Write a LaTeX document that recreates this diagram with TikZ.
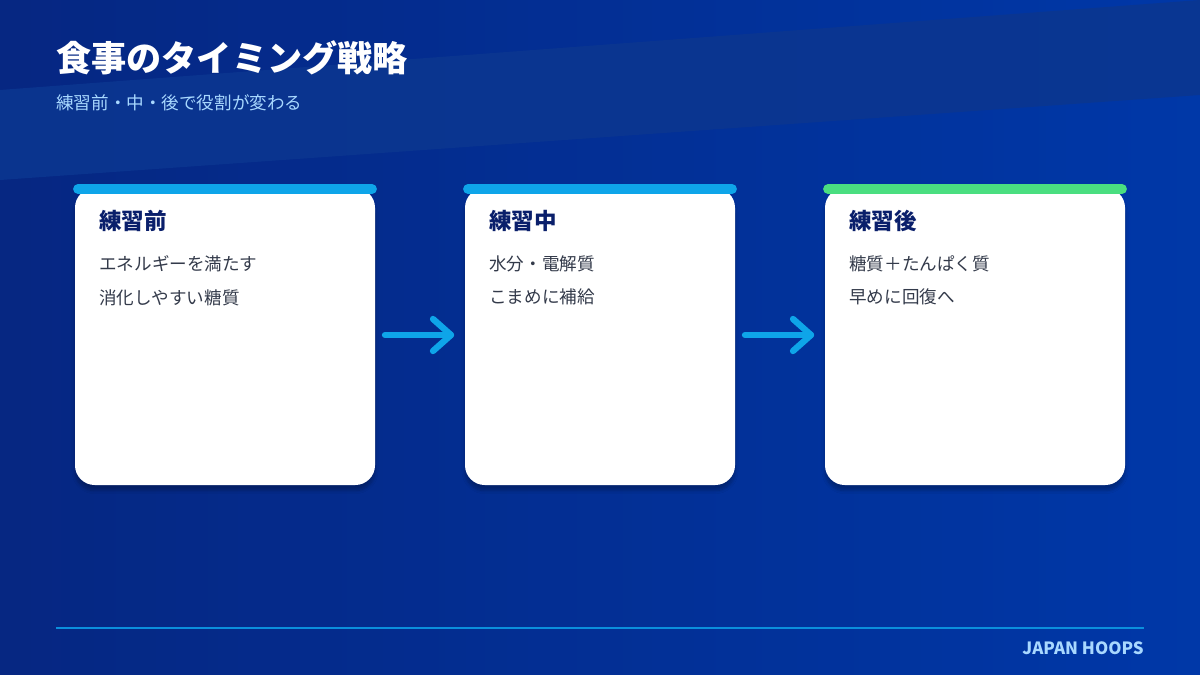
\documentclass[tikz,border=0pt]{standalone}
\usepackage{fontspec}
\setmainfont{Noto Sans CJK JP}
\setsansfont{Noto Sans CJK JP}
\usetikzlibrary{shadows.blur}
\definecolor{bgA}{HTML}{0A1E6E}
\definecolor{bgB}{HTML}{0038A8}
\definecolor{band}{HTML}{0B3690}
\definecolor{accB}{HTML}{0EA5E9}
\definecolor{accG}{HTML}{4ADE80}
\definecolor{head}{HTML}{0A1F6B}
\definecolor{body}{HTML}{333A4A}
\definecolor{sub}{HTML}{A8D8FF}
\begin{document}
\begin{tikzpicture}[x=0.025cm,y=-0.025cm,
  card/.style={fill=white,rounded corners=20pt*0.7,blur shadow={shadow blur steps=8,shadow xshift=0pt,shadow yshift=-4pt,shadow opacity=25}},
  bar/.style={line width=7pt,line cap=round},
  arr/.style={draw=accB,line width=4.5pt,line cap=round,line join=round},
  htext/.style={anchor=north west,font=\bfseries\fontsize{16}{18}\selectfont,text=head,inner sep=0},
  btext/.style={anchor=north west,font=\fontsize{12.5}{24}\selectfont,text=body,inner sep=0,align=left}]
\useasboundingbox (0,0) rectangle (1200,675);
\shade[left color=bgA,right color=bgB] (0,0) rectangle (1200,675);
\fill[bgB,opacity=0.35] (0,0) rectangle (1200,675);
\fill[band,opacity=0.9] (0,90) -- (1200,0) -- (1200,95) -- (0,180) -- cycle;
\node[anchor=west,text=white,font=\bfseries\fontsize{25}{28}\selectfont,inner sep=0] (title) at (56,58) {食事のタイミング戦略};
\node[anchor=west,text=sub,font=\fontsize{12.5}{15}\selectfont,inner sep=0] (subt) at (56,103) {練習前・中・後で役割が変わる};
% cards
\fill[card] (75,188) rectangle (375,485);
\draw[bar,accB] (78,189) -- (372,189);
\fill[card] (465,188) rectangle (735,485);
\draw[bar,accB] (468,189) -- (732,189);
\fill[card] (825,188) rectangle (1125,485);
\draw[bar,accG] (828,189) -- (1122,189);
\node[htext] (h1) at (99,210) {練習前};
\node[btext] (b1) at (99,255) {エネルギーを満たす\\消化しやすい糖質};
\node[htext] (h2) at (489,210) {練習中};
\node[btext] (b2) at (489,255) {水分・電解質\\こまめに補給};
\node[htext] (h3) at (849,210) {練習後};
\node[btext] (b3) at (849,255) {糖質＋たんぱく質\\早めに回復へ};
\coordinate (a1s) at (385,335); \coordinate (a1e) at (451,335);
\coordinate (a2s) at (745,335); \coordinate (a2e) at (811,335);
\draw[arr] (a1s) -- (a1e); \draw[arr] (433,319) -- (a1e) -- (433,351);
\draw[arr] (a2s) -- (a2e); \draw[arr] (793,319) -- (a2e) -- (793,351);
\coordinate (f1) at (56,628); \coordinate (f2) at (1144,628);
\draw[draw=accB!80!bgB,line width=1.2pt] (f1) -- (f2);
\node[anchor=east,text=sub,font=\bfseries\fontsize{12}{14}\selectfont,inner sep=0] (brand) at (1144,648) {JAPAN HOOPS};
\end{tikzpicture}
\end{document}
